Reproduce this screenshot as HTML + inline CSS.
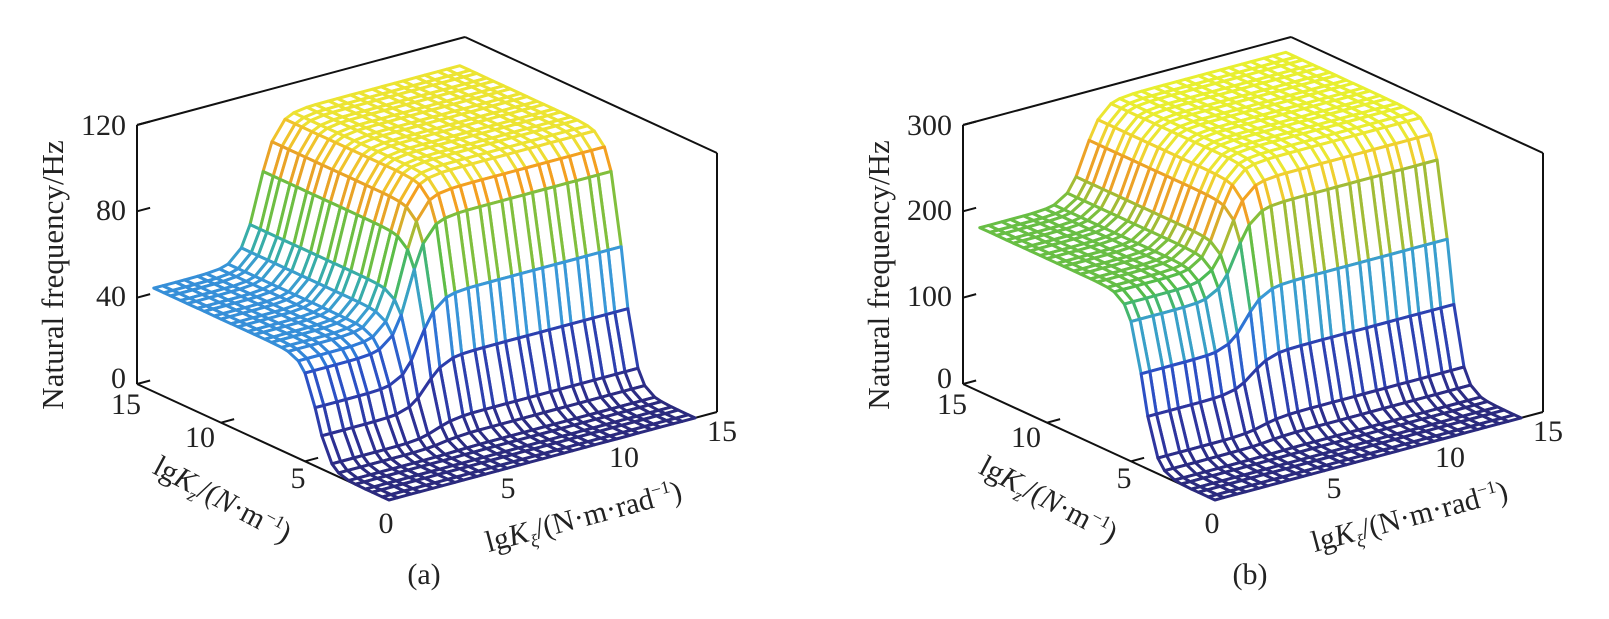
<!DOCTYPE html>
<html><head><meta charset="utf-8"><style>
html,body{margin:0;padding:0;background:#fff;}
svg{display:block;}
text{font-family:"Liberation Serif",serif;fill:#222;}
</style></head><body>
<svg id="s" width="1609" height="619" viewBox="0 0 1609 619" xmlns="http://www.w3.org/2000/svg"></svg>
<script>
const svg=document.getElementById('s');
const NS='http://www.w3.org/2000/svg';
function el(t,a,txt){const e=document.createElementNS(NS,t);for(const k in a)e.setAttribute(k,a[k]);if(txt!==undefined)e.textContent=txt;svg.appendChild(e);return e;}
const stops=[[0,'#2b2a7e'],[0.12,'#2e339c'],[0.28,'#2c4fc4'],[0.36,'#2f7ad8'],[0.42,'#3a9ad8'],[0.52,'#38b0a0'],[0.6,'#4ebc4c'],[0.68,'#8cc03a'],[0.74,'#c8b42e'],[0.8,'#f0a026'],[0.85,'#f4a020'],[0.9,'#eedc34'],[1,'#e8f030']];
function hex(h){return [1,3,5].map(i=>parseInt(h.substr(i,2),16));}
function cmap(t){t=Math.max(0,Math.min(1,t));for(let i=1;i<stops.length;i++){if(t<=stops[i][0]){const a=stops[i-1],b=stops[i];const u=(t-a[0])/(b[0]-a[0]);const ca=hex(a[1]),cb=hex(b[1]);return 'rgb('+ca.map((v,j)=>Math.round(v+(cb[j]-v)*u)).join(',')+')';}}return stops[stops.length-1][1];}
function S(x,c,w){return 1/(1+Math.exp(-(x-c)/w));}
const G=[];for(let k=0;k<=14;k++){G.push(k);if(k<14)G.push(k+0.4);}
function panel(ox,zmax,zticks,fn,tag){
  const O=[ox,500],XI=[328/15,-88/15],KZ=[-252/15,-116/15],ZH=259;
  const P=(xi,kz,f)=>[O[0]+xi*XI[0]+kz*KZ[0],O[1]+xi*XI[1]+kz*KZ[1]-f/zmax*ZH];
  const L=(a,b)=>el('line',{x1:a[0],y1:a[1],x2:b[0],y2:b[1],stroke:'#111','stroke-width':2});
  L(P(0,15,0),P(0,15,zmax));L(P(15,0,0),P(15,0,zmax));
  L(P(0,15,zmax),P(15,15,zmax));L(P(15,15,zmax),P(15,0,zmax));
  L(P(0,15,0),P(0,0,0));L(P(0,0,0),P(15,0,0));
  for(const k of [5,10]){const a=P(0,k,0),b=P(0.6,k,0);L(a,b);const c=P(k,0,0),d=P(k,0.8,0);L(c,d);}
  for(const z of zticks){const a=P(0,15,z),b=P(0.6,15,z);L(a,b);}
  const quads=[];
  for(let i=0;i<G.length-1;i++)for(let j=0;j<G.length-1;j++){const x0=G[i],x1=G[i+1],k0=G[j],k1=G[j+1];
    const fs=[fn(x0,k0),fn(x1,k0),fn(x1,k1),fn(x0,k1)];
    quads.push({d:(x0+x1)*0.5*0.8+(k0+k1)*0.5,p:[P(x0,k0,fs[0]),P(x1,k0,fs[1]),P(x1,k1,fs[2]),P(x0,k1,fs[3])],c:cmap((fs[0]+fs[1]+fs[2]+fs[3])/4/zmax)});}
  quads.sort((a,b)=>b.d-a.d);
  for(const q of quads)el('polygon',{points:q.p.map(p=>p[0].toFixed(1)+','+p[1].toFixed(1)).join(' '),fill:'#fff',stroke:q.c,'stroke-width':3,'stroke-linejoin':'round'});
  const dx=ox-389;
  const zy=[378,296,210,125];
  zticks.forEach((z,i)=>el('text',{x:126+dx,y:zy[i]+10,'font-size':30,'text-anchor':'end'},String(z)));
  [[126,404,'15'],[200,437,'10'],[298,478,'5'],[386,523,'0'],[508,488,'5'],[624,457,'10'],[722,431,'15']].forEach(t=>el('text',{x:t[0]+dx,y:t[1]+10,'font-size':30,'text-anchor':'middle'},t[2]));
  el('text',{x:0,y:0,'font-size':31,'text-anchor':'middle',transform:'translate('+(63+dx)+',275) rotate(-90)'},'Natural frequency/Hz');
  const t1=el('text',{x:0,y:0,'font-size':30,'text-anchor':'middle',transform:'translate('+(218+dx)+',508) rotate(28)'});
  t1.innerHTML='lg<tspan font-style="italic">K</tspan><tspan font-size="18" dy="7" font-style="italic">z</tspan><tspan dy="-7">/(</tspan><tspan font-style="italic">N</tspan>·m<tspan font-size="18" dy="-11">−1</tspan><tspan dy="11">)</tspan>';
  const t2=el('text',{x:0,y:0,'font-size':30,'text-anchor':'middle',transform:'translate('+(586+dx)+',526) rotate(-15)'});
  t2.innerHTML='lg<tspan font-style="italic">K</tspan><tspan font-size="18" dy="7" font-style="italic">ξ</tspan><tspan dy="-7">/(N·m·rad</tspan><tspan font-size="18" dy="-11">−1</tspan><tspan dy="11">)</tspan>';
  el('text',{x:424+dx,y:584,'font-size':30,'text-anchor':'middle'},tag);
}
panel(389,120,[0,40,80,120],(xi,kz)=>S(kz,4.3,0.4)*(48+65*S(xi,4.8,0.4)),'(a)');
panel(1215,300,[0,100,200,300],(xi,kz)=>S(kz,4.3,0.4)*(190+108*S(xi,4.8,0.4)),'(b)');
</script>
</body></html>
